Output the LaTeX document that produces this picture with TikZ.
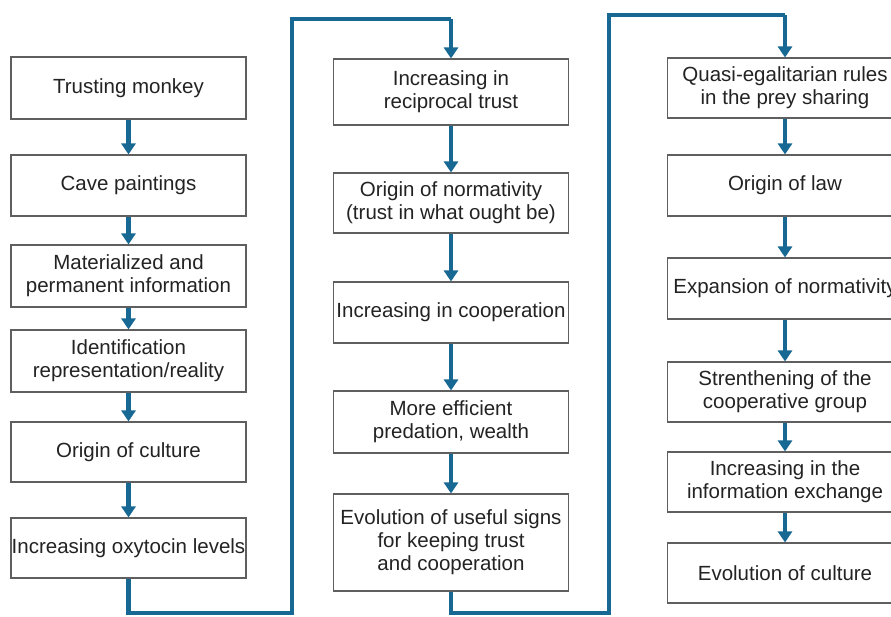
\documentclass[tikz,border=0pt]{standalone}
\usepackage{fontspec}
\setmainfont{Liberation Sans}
\usetikzlibrary{arrows.meta}
\definecolor{flowblue}{RGB}{24,104,148}
\definecolor{boxline}{RGB}{95,95,95}
\definecolor{txt}{RGB}{35,35,35}
\tikzset{
  stepbox/.style={draw=boxline, line width=1.1pt, fill=white, text=txt,
    inner sep=0pt, minimum width=235pt, align=center,
    font=\fontsize{20.5}{23}\selectfont},
  flow/.style={draw=flowblue, line width=4.5pt,
    -{Triangle[width=14pt,length=11pt]}},
  link/.style={draw=flowblue, line width=4.5pt, line join=miter},
}
\begin{document}
\begin{tikzpicture}[x=1pt,y=-1pt]
\useasboundingbox (0,0) rectangle (891,617);
\clip (0,0) rectangle (891,617);
\fill[white] (0,0) rectangle (891,617);
% left column
\node[stepbox, minimum height=62pt] (L1) at (128.5,88) {Trusting monkey};
\node[stepbox, minimum height=61pt] (L2) at (128.5,185.5) {Cave paintings};
\node[stepbox, minimum height=62pt] (L3) at (128.5,276) {Materialized and\\permanent information};
\node[stepbox, minimum height=62pt] (L4) at (128.5,361) {Identification\\representation/reality};
\node[stepbox, minimum height=60pt] (L5) at (128.5,452) {Origin of culture};
\node[stepbox, minimum height=60pt] (L6) at (128.5,548) {Increasing oxytocin levels};
% middle column
\node[stepbox, minimum height=66pt] (M1) at (451,92) {Increasing in\\reciprocal trust};
\node[stepbox, minimum height=60pt] (M2) at (451,203) {Origin of normativity\\(trust in what ought be)};
\node[stepbox, minimum height=61pt] (M3) at (451,312.5) {Increasing in cooperation};
\node[stepbox, minimum height=62pt] (M4) at (451,422) {More efficient\\predation, wealth};
\node[stepbox, minimum height=97pt] (M5) at (451,542.5) {Evolution of useful signs\\for keeping trust\\and cooperation};
% right column
\node[stepbox, minimum height=60pt] (R1) at (785,88) {Quasi-egalitarian rules\\in the prey sharing};
\node[stepbox, minimum height=61pt] (R2) at (785,185.5) {Origin of law};
\node[stepbox, minimum height=61pt] (R3) at (785,288.5) {Expansion of normativity};
\node[stepbox, minimum height=60pt] (R4) at (785,392) {Strenthening of the\\cooperative group};
\node[stepbox, minimum height=60pt] (R5) at (785,482) {Increasing in the\\information exchange};
\node[stepbox, minimum height=60pt] (R6) at (785,573) {Evolution of culture};
% arrows within columns
\draw[flow] (L1) -- (L2);
\draw[flow] (L2) -- (L3);
\draw[flow] (L3) -- (L4);
\draw[flow] (L4) -- (L5);
\draw[flow] (L5) -- (L6);
\draw[flow] (M1) -- (M2);
\draw[flow] (M2) -- (M3);
\draw[flow] (M3) -- (M4);
\draw[flow] (M4) -- (M5);
\draw[flow] (R1) -- (R2);
\draw[flow] (R2) -- (R3);
\draw[flow] (R3) -- (R4);
\draw[flow] (R4) -- (R5);
\draw[flow] (R5) -- (R6);
% column links
\coordinate (a1) at (128.5,613);
\coordinate (a2) at (292,613);
\coordinate (a3) at (292,19);
\coordinate (a4) at (451,19);
\draw[link] (L6.south) -- (a1) -- (a2) -- (a3) -- (a4);
\draw[flow] (a4) -- (M1.north);
\coordinate (b1) at (451,613);
\coordinate (b2) at (609,613);
\coordinate (b3) at (609,15);
\coordinate (b4) at (785,15);
\draw[link] (M5.south) -- (b1) -- (b2) -- (b3) -- (b4);
\draw[flow] (b4) -- (R1.north);
\end{tikzpicture}
\end{document}
